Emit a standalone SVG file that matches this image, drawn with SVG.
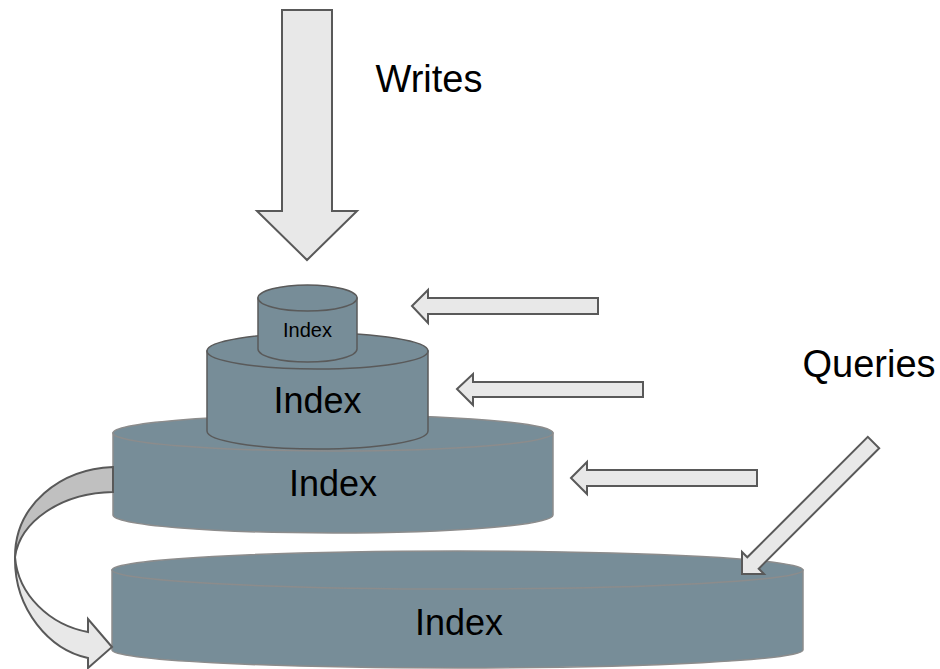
<svg xmlns="http://www.w3.org/2000/svg" width="940" height="669" viewBox="0 0 940 669">
<style>
.cyl{fill:#778d98;}
.dk{stroke:#5a5a5a;stroke-width:1.5;}
.lt{stroke:#8c8c8c;stroke-width:1.5;}
.arr{fill:#e8e8e8;stroke:#595959;stroke-width:2;stroke-linejoin:miter;}
.lbl{font-family:"Liberation Sans",Arial,sans-serif;fill:#000;text-anchor:middle;}
.big{font-size:36px;}
</style>
<rect width="940" height="669" fill="#ffffff"/>
<g id="index4">
<path class="cyl lt" d="M112,570 L112,650 A345.5,18 0 0 0 803,650 L803,570 Z"/>
<ellipse class="cyl lt" cx="457.5" cy="570" rx="345.5" ry="19"/>
<text class="lbl big" x="459" y="635">Index</text>
</g>
<g id="index3">
<path class="cyl lt" d="M113,433 L113,515 A220,18 0 0 0 553,515 L553,433 Z"/>
<ellipse class="cyl lt" cx="333" cy="433" rx="220" ry="18"/>
<text class="lbl big" x="333" y="496">Index</text>
</g>
<g id="index2">
<path class="cyl dk" d="M207,351 L207,431 A110.5,18 0 0 0 428,431 L428,351 Z"/>
<ellipse class="cyl dk" cx="317.5" cy="351" rx="110.5" ry="18"/>
<text class="lbl big" x="317.5" y="413">Index</text>
</g>
<g id="index1">
<path class="cyl dk" d="M258,298 L258,349 A49.5,13 0 0 0 357,349 L357,298 Z"/>
<ellipse class="cyl dk" cx="307.5" cy="298" rx="49.5" ry="13"/>
<text class="lbl" style="font-size:20px" x="307.5" y="337">Index</text>
</g>
<g id="writes">
<text class="lbl" style="font-size:38px" x="429" y="92">Writes</text>
</g>
<g id="queries">
<text class="lbl" style="font-size:38px" x="869" y="377">Queries</text>
</g>
<g id="connectors">
<polygon class="arr" points="282,10 332,10 332,211 357,211 307,260 257,211 282,211"/>
<polygon class="arr" points="412,306 428,290 428,298 598,298 598,314 428,314 428,323"/>
<polygon class="arr" points="457,389 473,374 473,382 643,382 643,397 473,397 473,405"/>
<polygon class="arr" points="571,478 587,462 587,470 757,470 757,486 587,486 587,494"/>
<polygon class="arr" points="742,574 742,552 747.3,557.3 867.8,436.8 879.2,448.2 758.7,568.7 764,574"/>
<path fill="#c0c0c0" stroke="#595959" stroke-width="2" d="M113,467 C60,469 15,505 15,557 C20,522 60,493 113,492 Z"/>
<path class="arr" d="M15,557 C14,610 50,650 88,658 L88,668 L112,647 L88,619 L88,632 C50,625 18,595 15,557 Z"/>
</g>
</svg>
